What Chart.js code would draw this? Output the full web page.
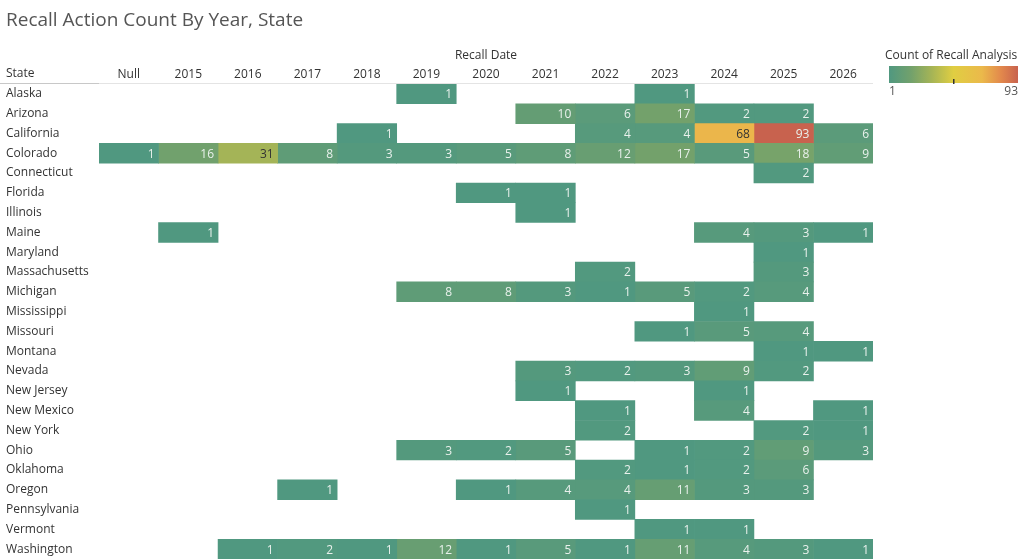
<!DOCTYPE html>
<html>
<head>
<meta charset="utf-8">
<script src="https://cdn.jsdelivr.net/npm/chart.js@4"></script>
<style>
  html, body { margin: 0; padding: 0; background: #fff; }
  #wrap { width: 1024px; height: 559px; position: relative; }
</style>
</head>
<body>
<div id="wrap"><canvas id="heatChart"></canvas></div>
<script>
// rows and columns
var states = ["Alaska", "Arizona", "California", "Colorado", "Connecticut", "Florida", "Illinois",
    "Maine", "Maryland", "Massachusetts", "Michigan", "Mississippi", "Missouri", "Montana", "Nevada",
    "New Jersey", "New Mexico", "New York", "Ohio", "Oklahoma", "Oregon", "Pennsylvania", "Vermont", "Washington"];
var years = ["Null", "2015", "2016", "2017", "2018", "2019", "2020", "2021", "2022", "2023", "2024", "2025", "2026"];

// counts per state, one entry per year column (null = no cell)
var alaska        = [null, null, null, null, null, 1, null, null, null, 1, null, null, null];
var arizona       = [null, null, null, null, null, null, null, 10, 6, 17, 2, 2, null];
var california    = [null, null, null, null, 1, null, null, null, 4, 4, 68, 93, 6];
var colorado      = [1, 16, 31, 8, 3, 3, 5, 8, 12, 17, 5, 18, 9];
var connecticut   = [null, null, null, null, null, null, null, null, null, null, null, 2, null];
var florida       = [null, null, null, null, null, null, 1, 1, null, null, null, null, null];
var illinois      = [null, null, null, null, null, null, null, 1, null, null, null, null, null];
var maine         = [null, 1, null, null, null, null, null, null, null, null, 4, 3, 1];
var maryland      = [null, null, null, null, null, null, null, null, null, null, null, 1, null];
var massachusetts = [null, null, null, null, null, null, null, null, 2, null, null, 3, null];
var michigan      = [null, null, null, null, null, 8, 8, 3, 1, 5, 2, 4, null];
var mississippi   = [null, null, null, null, null, null, null, null, null, null, 1, null, null];
var missouri      = [null, null, null, null, null, null, null, null, null, 1, 5, 4, null];
var montana       = [null, null, null, null, null, null, null, null, null, null, null, 1, 1];
var nevada        = [null, null, null, null, null, null, null, 3, 2, 3, 9, 2, null];
var newJersey     = [null, null, null, null, null, null, null, 1, null, null, 1, null, null];
var newMexico     = [null, null, null, null, null, null, null, null, 1, null, 4, null, 1];
var newYork       = [null, null, null, null, null, null, null, null, 2, null, null, 2, 1];
var ohio          = [null, null, null, null, null, 3, 2, 5, null, 1, 2, 9, 3];
var oklahoma      = [null, null, null, null, null, null, null, null, 2, 1, 2, 6, null];
var oregon        = [null, null, null, 1, null, null, 1, 4, 4, 11, 3, 3, null];
var pennsylvania  = [null, null, null, null, null, null, null, null, 1, null, null, null, null];
var vermont       = [null, null, null, null, null, null, null, null, null, 1, 1, null, null];
var washington    = [null, null, 1, 2, 1, 12, 1, 5, 1, 11, 4, 3, 1];

var counts = [alaska, arizona, california, colorado, connecticut, florida, illinois, maine, maryland,
    massachusetts, michigan, mississippi, missouri, montana, nevada, newJersey, newMexico, newYork,
    ohio, oklahoma, oregon, pennsylvania, vermont, washington];

var minCount = 1, maxCount = 93;

// colour ramp (teal -> gold -> red)
var stops = [
    [0.00, [80, 152, 128]],
    [0.17, [114, 161, 108]],
    [0.33, [165, 180, 86]],
    [0.50, [224, 206, 66]],
    [0.72, [235, 185, 75]],
    [0.87, [226, 136, 76]],
    [1.00, [200, 98, 78]]
];

function rampRgb(t) {
    for (var i = 1; i < stops.length; i++) {
        if (t <= stops[i][0]) {
            var a = stops[i - 1], b = stops[i];
            var f = (t - a[0]) / (b[0] - a[0]);
            return [0, 1, 2].map(function (k) { return Math.round(a[1][k] + (b[1][k] - a[1][k]) * f); });
        }
    }
    return stops[stops.length - 1][1];
}
function countRgb(v) {
    return rampRgb((v - minCount) / (maxCount - minCount));
}

// one floating-bar dataset per year column
var datasets = years.map(function (y, c) {
    return {
        label: y,
        data: counts.map(function (row) { return row[c] == null ? null : [c, c + 1]; }),
        backgroundColor: counts.map(function (row) {
            if (row[c] == null) return 'rgba(0,0,0,0)';
            var rgb = countRgb(row[c]);
            return 'rgb(' + rgb.join(',') + ')';
        }),
        borderWidth: 0,
        barPercentage: 1,
        categoryPercentage: 1,
        grouped: false
    };
});

var FONT = "'Open Sans', 'Noto Sans', sans-serif";

var cellText = {
    id: 'cellText',
    afterDatasetsDraw: function (chart) {
        var ctx = chart.ctx;
        ctx.save();
        ctx.font = '12px ' + FONT;
        ctx.textAlign = 'right';
        ctx.textBaseline = 'middle';
        chart.data.datasets.forEach(function (ds, c) {
            var meta = chart.getDatasetMeta(c);
            meta.data.forEach(function (bar, r) {
                var v = counts[r][c];
                if (v == null) return;
                var rgb = countRgb(v);
                var bright = (rgb[0] * 299 + rgb[1] * 587 + rgb[2] * 114) / 1000;
                ctx.fillStyle = bright > 155 ? '#333333' : '#e9f1ec';
                var right = Math.max(bar.x, bar.base);
                ctx.fillText(String(v), right - 4, bar.y + 1);
            });
        });
        ctx.restore();
    }
};

var headerAndLegend = {
    id: 'headerAndLegend',
    afterDraw: function (chart) {
        var ctx = chart.ctx, a = chart.chartArea;
        ctx.save();
        // header text + rule
        ctx.font = '12px ' + FONT;
        ctx.fillStyle = '#333';
        ctx.textAlign = 'left';
        ctx.textBaseline = 'middle';
        ctx.fillText('State', 6, 74);
        ctx.strokeStyle = '#c8c8c8';
        ctx.lineWidth = 1;
        ctx.beginPath();
        ctx.moveTo(0, a.top - 0.5);
        ctx.lineTo(a.left, a.top - 0.5);
        ctx.stroke();
        ctx.strokeStyle = '#e4e4e4';
        ctx.beginPath();
        ctx.moveTo(a.left, a.top - 0.5);
        ctx.lineTo(a.right, a.top - 0.5);
        ctx.stroke();

        // colour legend
        var lx = 889, ly = 66, lw = 129, lh = 17;
        ctx.font = '12px ' + FONT;
        ctx.fillStyle = '#333';
        ctx.textAlign = 'left';
        ctx.fillText('Count of Recall Analysis', 885, 56);
        var g = ctx.createLinearGradient(lx, 0, lx + lw, 0);
        stops.forEach(function (s) { g.addColorStop(s[0], 'rgb(' + s[1].join(',') + ')'); });
        ctx.fillStyle = g;
        ctx.fillRect(lx, ly, lw, lh);
        ctx.fillStyle = '#333';
        ctx.fillRect(lx + lw / 2 - 0.5, ly + lh - 4, 1.5, 5);
        ctx.font = '12px ' + FONT;
        ctx.fillStyle = '#555';
        ctx.fillText(String(minCount), lx, 92);
        ctx.textAlign = 'right';
        ctx.fillText(String(maxCount), lx + lw, 92);
        ctx.restore();
    }
};

new Chart(document.getElementById('heatChart'), {
    type: 'bar',
    data: { labels: states, datasets: datasets },
    plugins: [cellText, headerAndLegend],
    options: {
        indexAxis: 'y',
        responsive: true,
        maintainAspectRatio: false,
        animation: false,
        layout: { padding: { left: 6, right: 151, top: 0, bottom: 0 } },
        plugins: {
            legend: { display: false },
            tooltip: { enabled: false },
            title: {
                display: true,
                text: 'Recall Action Count By Year, State',
                align: 'start',
                color: '#555',
                font: { family: FONT, size: 19, weight: 'normal' },
                padding: { top: 9, bottom: 12 }
            }
        },
        scales: {
            x: {
                type: 'linear',
                min: 0,
                max: years.length,
                display: false
            },
            xTop: {
                type: 'category',
                labels: years,
                position: 'top',
                offset: true,
                grid: { display: false, drawTicks: false },
                border: { display: false },
                ticks: { color: '#333', font: { family: FONT, size: 12 }, padding: 2, maxRotation: 0, autoSkip: false },
                title: {
                    display: true,
                    text: 'Recall Date',
                    color: '#333',
                    font: { family: FONT, size: 12 },
                    padding: { top: 5, bottom: 2 }
                },
                afterFit: function (scale) { scale.height = 40.2; scale.paddingLeft = 0; scale.paddingRight = 0; }
            },
            y: {
                type: 'category',
                grid: { display: false, drawTicks: false },
                border: { display: false },
                ticks: { color: '#333', crossAlign: 'far', font: { family: FONT, size: 12 }, autoSkip: false },
                afterFit: function (scale) { scale.width = 93; scale.paddingTop = 0; scale.paddingBottom = 0; }
            }
        }
    }
});
</script>
</body>
</html>
